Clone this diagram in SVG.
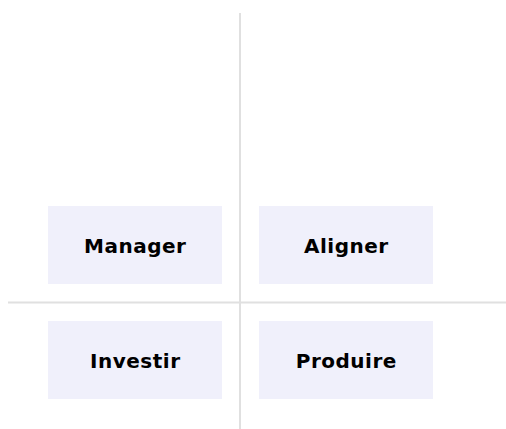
<svg xmlns="http://www.w3.org/2000/svg" width="506" height="429" viewBox="0 0 506 429">
<style>
.box{fill:#f0f0fb}
.lbl{font-family:"DejaVu Sans","Verdana",sans-serif;font-weight:bold;font-size:20px;letter-spacing:0.5px;fill:#000;text-anchor:middle}
.axis{stroke:#e0e0e0;stroke-width:2;fill:none}
</style>
<rect width="506" height="429" fill="#fff"/>
<g id="connectors">
<line class="axis" x1="240" y1="13" x2="240" y2="429"/>
<line class="axis" x1="8" y1="302.5" x2="506" y2="302.5"/>
</g>
<g id="manager"><rect class="box" x="48" y="206" width="174" height="78"/><text class="lbl" x="135.3" y="252.5">Manager</text></g>
<g id="aligner"><rect class="box" x="259" y="206" width="174" height="78"/><text class="lbl" x="346.3" y="252.5">Aligner</text></g>
<g id="investir"><rect class="box" x="48" y="321" width="174" height="78"/><text class="lbl" x="135.3" y="367.5">Investir</text></g>
<g id="produire"><rect class="box" x="259" y="321" width="174" height="78"/><text class="lbl" x="346.3" y="367.5">Produire</text></g>
</svg>
